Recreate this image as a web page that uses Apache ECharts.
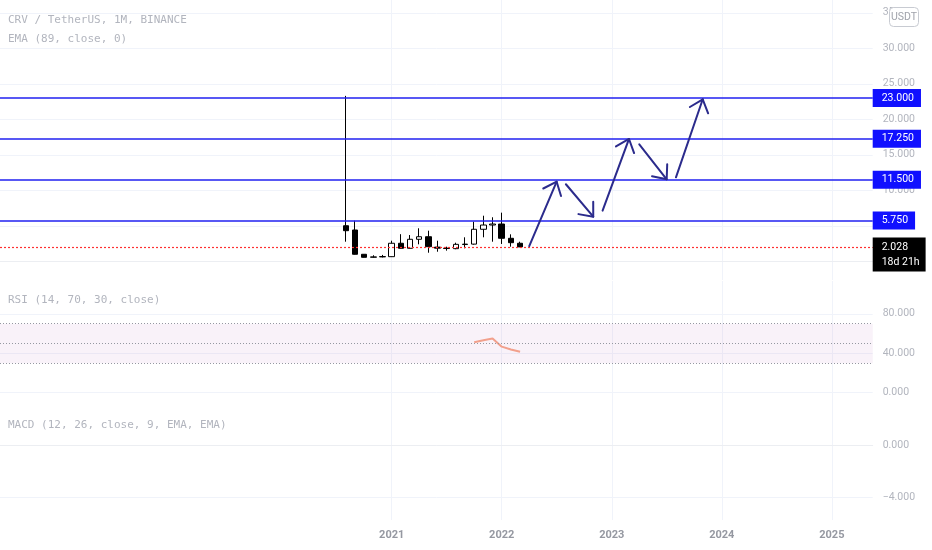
<!DOCTYPE html>
<html><head><meta charset="utf-8">
<script src="https://cdn.jsdelivr.net/npm/echarts@6/dist/echarts.min.js"></script>
<style>html,body{margin:0;padding:0;background:#fff}#c{width:932px;height:550px}</style>
</head><body><div id="c"></div>
<script>
// months since Jan 2021 (Aug 2020 .. Mar 2022)
const months = [-5,-4,-3,-2,-1,0,1,2,3,4,5,6,7,8,9,10,11,12,13,14];
const opens  = [5.01,4.41,0.99,0.57,0.62,0.65,2.54,1.83,3.10,3.46,2.00,1.85,1.78,2.36,2.42,4.51,5.11,5.25,3.24,2.54];
const closes = [4.31,0.99,0.56,0.62,0.67,2.54,1.83,3.10,3.46,2.06,1.85,1.80,2.39,2.42,4.51,5.11,5.25,3.24,2.62,2.028];
const lows   = [2.76,0.95,0.53,0.52,0.55,0.62,1.80,1.80,2.39,1.21,1.35,1.50,1.70,1.83,2.35,3.38,2.76,2.44,2.06,2.00];
const highs  = [23.3,5.72,1.00,0.85,0.90,2.90,3.82,3.70,4.65,4.31,2.90,2.06,2.62,3.38,5.58,6.42,6.20,6.85,3.80,2.76];
const levels = [23, 17.25, 11.5, 5.75];
const lastClose = 2.028;
const countdown = '18d 21h';
const rsiMonths = [9,10,11,12,13,14];
const rsiValues = [51.1,53.3,55.0,46.7,43.8,41.6];
const rsiBands = [70,50,30];
const arrowFromM = [15,19,23,27,31];
const arrowFromP = [2.15,10.85,7.13,16.48,11.83];
const arrowToM   = [17.99,21.98,25.88,29.99,33.92];
const arrowToP   = [11.21,6.28,17.23,11.55,22.82];
const yearTicks  = [0,12,24,36,48];
const yearLabels = ['2021','2022','2023','2024','2025'];
const priceTicks = [0,5,10,15,20,25,30,35];
const rsiTicks   = [0,40,80];
const macdTicks  = [-4,0];

const GRID = '#f0f3fa';
const LBL = '#b2b5be';
const xMin = -42.715, xMax = 52.455;

function xAxisFor(idx, showLabel, lineShow) {
  return {
    type: 'value', gridIndex: idx, min: xMin, max: xMax,
    axisTick: {show: false, customValues: yearTicks},
    axisLabel: {show: showLabel, customValues: yearTicks,
      formatter: v => yearLabels[yearTicks.indexOf(v)] || '',
      color: '#9598a1', fontSize: 11, fontWeight: 'bold', fontFamily: 'Roboto', margin: 10},
    splitLine: {show: true, lineStyle: {color: GRID, width: 1}},
    axisLine: {show: lineShow, lineStyle: {color: '#eceef2'}}
  };
}
function yAxisFor(idx, min, max, ticks) {
  return {
    type: 'value', gridIndex: idx, position: 'right', min: min, max: max,
    axisTick: {show: false, customValues: ticks},
    axisLabel: {customValues: ticks, margin: 10, color: LBL, fontSize: 10.5, fontFamily: 'Roboto',
      formatter: v => (v < 0 ? '\u2212' : '') + Math.abs(v).toFixed(3)},
    splitLine: {show: true, lineStyle: {color: GRID, width: 1}},
    axisLine: {show: false}
  };
}

const chart = echarts.init(document.getElementById('c'));
const levelLines = levels.map(v => ({
  yAxis: v,
  lineStyle: {color: '#2020f0', width: 1.6, type: 'solid'},
  label: {show: true, position: 'end', distance: 0, formatter: v.toFixed(3),
    backgroundColor: '#1010ff', color: '#fff', padding: [3,7,2,9],
    fontSize: 10.5, fontFamily: 'Roboto', lineHeight: 13}
}));

const option = {
  animation: false,
  backgroundColor: '#ffffff',
  grid: [
    {left: 0, right: 59.3, top: 0, height: 280},
    {left: 0, right: 59.3, top: 281, height: 124},
    {left: 0, right: 59.3, top: 405, height: 115}
  ],
  xAxis: [xAxisFor(0, false, true), xAxisFor(1, false, false), xAxisFor(2, true, true)],
  yAxis: [
    yAxisFor(0, -2.634, 36.803, priceTicks),
    yAxisFor(1, -12.47, 113.3, rsiTicks),
    yAxisFor(2, -5.731, 3.115, macdTicks)
  ],
  series: [
    {
      type: 'candlestick', xAxisIndex: 0, yAxisIndex: 0,
      data: months.map((m, i) => [m, opens[i], closes[i], lows[i], highs[i]]),
      encode: {x: 0, y: [1,2,3,4]},
      barWidth: 6,
      itemStyle: {color: '#ffffff', color0: '#000000', borderColor: '#000000', borderColor0: '#000000', borderWidth: 1},
      markLine: {symbol: ['none','none'], silent: true, animation: false, data: levelLines}
    },
    {
      // last-price line
      type: 'line', xAxisIndex: 0, yAxisIndex: 0, data: [], symbol: 'none',
      color: '#ff3030',
      markLine: {symbol: ['none','none'], silent: true, animation: false,
        lineStyle: {color: '#ff3030', width: 1.2, type: [2,2]},
        data: [{
          yAxis: lastClose,
          lineStyle: {color: '#ff3030', width: 1.2, type: [2,2]},
          label: {show: true, position: 'end', distance: 0, formatter: lastClose.toFixed(3) + '\n' + countdown,
            backgroundColor: '#000', color: '#fff', padding: [2,6,2,9], lineHeight: 15,
            fontSize: 10.5, fontFamily: 'Roboto', offset: [0, 7.5]}
        }]}
    },
    {
      type: 'custom', xAxisIndex: 0, yAxisIndex: 0, z: 5, silent: true,
      data: arrowFromM.map((m, i) => [m, arrowFromP[i], arrowToM[i], arrowToP[i]]),
      encode: {x: [0,2], y: [1,3]},
      renderItem: (params, api) => {
        const a = api.coord([api.value(0), api.value(1)]);
        const b = api.coord([api.value(2), api.value(3)]);
        const ang = Math.atan2(a[1]-b[1], a[0]-b[0]);
        const L = 15, w = 40 * Math.PI / 180;
        const w1 = [b[0] + L*Math.cos(ang+w), b[1] + L*Math.sin(ang+w)];
        const w2 = [b[0] + L*Math.cos(ang-w), b[1] + L*Math.sin(ang-w)];
        const st = {stroke: '#2b2b8c', lineWidth: 2, fill: null, lineCap: 'round', lineJoin: 'round'};
        return {type: 'group', children: [
          {type: 'polyline', shape: {points: [a, b]}, style: st},
          {type: 'polyline', shape: {points: [w1, b, w2]}, style: st}
        ]};
      }
    },
    {
      type: 'line', xAxisIndex: 1, yAxisIndex: 1,
      data: rsiMonths.map((m, i) => [m, rsiValues[i]]),
      symbol: 'none', lineStyle: {color: '#f2a08c', width: 2},
      markArea: {silent: true, itemStyle: {color: 'rgba(190,110,190,0.09)'},
        data: [[{yAxis: rsiBands[2]}, {yAxis: rsiBands[0]}]]},
      markLine: {symbol: ['none','none'], silent: true, label: {show: false},
        data: rsiBands.map(v => ({yAxis: v, lineStyle: {color: '#9598a1', width: 1, type: [1,2]}}))}
    },
    {type: 'line', xAxisIndex: 2, yAxisIndex: 2, data: [], symbol: 'none'}
  ],
  graphic: [
    {type: 'text', x: 8, y: 20, style: {text: 'CRV / TetherUS, 1M, BINANCE', fill: LBL, font: '11px "DejaVu Sans Mono"', verticalAlign: 'middle'}},
    {type: 'text', x: 8, y: 39, style: {text: 'EMA (89, close, 0)', fill: LBL, font: '11px "DejaVu Sans Mono"', verticalAlign: 'middle'}},
    {type: 'text', x: 8, y: 300, style: {text: 'RSI (14, 70, 30, close)', fill: LBL, font: '11px "DejaVu Sans Mono"', verticalAlign: 'middle'}},
    {type: 'text', x: 8, y: 425, style: {text: 'MACD (12, 26, close, 9, EMA, EMA)', fill: LBL, font: '11px "DejaVu Sans Mono"', verticalAlign: 'middle'}},
    {type: 'rect', z: 100, shape: {x: 889.5, y: 7.5, width: 29, height: 19, r: 4}, style: {fill: '#fff', stroke: '#c8cbd2', lineWidth: 1}},
    {type: 'text', z: 101, x: 904, y: 17, style: {text: 'USDT', fill: '#a0a3ab', font: '10.5px Roboto', align: 'center', verticalAlign: 'middle'}}
  ]
};
chart.setOption(option);
</script></body></html>
